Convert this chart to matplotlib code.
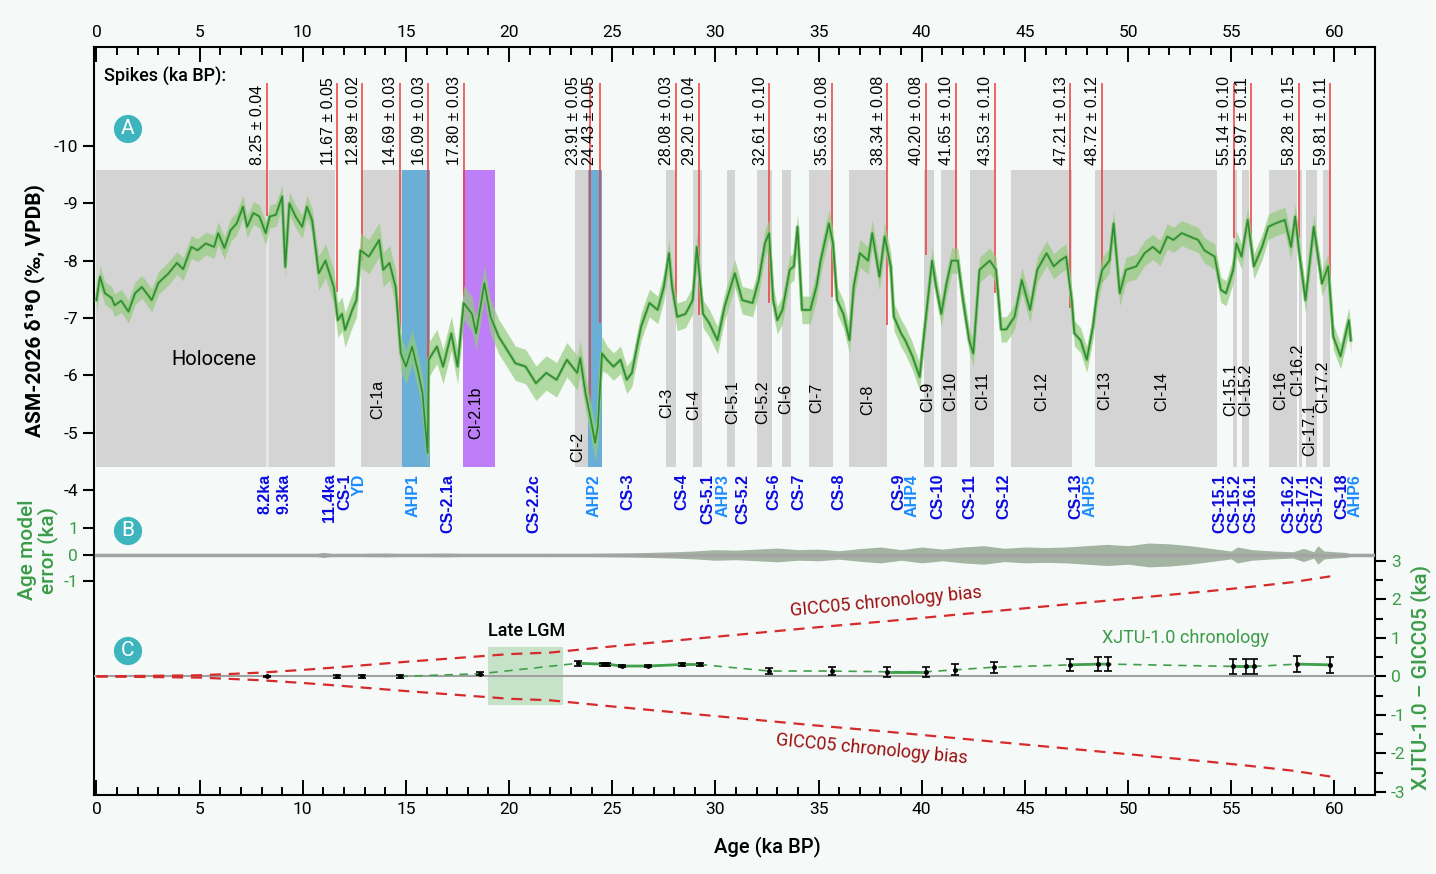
import matplotlib.pyplot as plt
from matplotlib.patches import Rectangle
from matplotlib.ticker import MultipleLocator, FixedLocator

plt.rcParams['font.family'] = ['Roboto', 'DejaVu Sans']
plt.rcParams['axes.unicode_minus'] = False

W, H = 1436, 874
BG = '#f5f9f8'
GREEN = '#3c9c48'
DARK_RED = '#9b1111'
ARIAL = ['Liberation Sans', 'DejaVu Sans']

# ASM-2026 d18O record (ka BP, permil)
d18o_age = [0.0, 0.17, 0.41, 0.73, 0.88, 1.2, 1.55, 1.87, 2.2, 2.68, 3.0, 3.5, 3.9, 4.2, 4.6,
            4.9, 5.3, 5.7, 5.9, 6.2, 6.5, 6.8, 7.1, 7.3, 7.6, 7.9, 8.2, 8.4, 8.7, 9.0,
            9.15, 9.35, 9.65, 9.97, 10.2, 10.45, 10.77, 11.1, 11.5, 11.7, 11.9, 12.05, 12.4, 12.6, 12.8,
            13.2, 13.7, 13.9, 14.2, 14.5, 14.75, 15.0, 15.3, 15.6, 15.8, 16.05, 16.1, 16.5, 16.8, 17.2,
            17.5, 17.8, 18.2, 18.4, 18.8, 19.1, 19.5, 19.8, 20.3, 20.8, 21.3, 21.8, 22.3, 22.8, 23.3,
            23.45, 23.7, 23.9, 24.17, 24.3, 24.5, 24.74, 25.06, 25.4, 25.7, 25.95, 26.2, 26.4, 26.8, 27.2,
            27.5, 27.75, 27.9, 28.15, 28.55, 28.9, 29.1, 29.4, 29.7, 30.1, 30.45, 30.94, 31.3, 31.8, 32.1,
            32.4, 32.6, 32.8, 33.0, 33.25, 33.6, 33.8, 33.98, 34.2, 34.6, 34.9, 35.1, 35.5, 35.7, 35.9,
            36.2, 36.5, 36.7, 37.0, 37.4, 37.6, 37.95, 38.2, 38.5, 38.65, 39.0, 39.2, 39.55, 39.9, 40.1,
            40.5, 40.7, 40.95, 41.2, 41.45, 41.75, 42.0, 42.3, 42.5, 42.8, 43.3, 43.6, 43.85, 44.1, 44.5,
            44.85, 45.25, 45.6, 46.05, 46.4, 46.7, 47.0, 47.27, 47.4, 47.7, 48.0, 48.3, 48.5, 48.75, 49.1,
            49.3, 49.6, 49.9, 50.4, 50.8, 51.2, 51.55, 51.9, 52.2, 52.6, 53.0, 53.4, 53.7, 54.2, 54.5,
            54.75, 55.1, 55.25, 55.5, 55.8, 56.1, 56.5, 56.8, 57.15, 57.6, 57.9, 58.1, 58.3, 58.6, 59.0,
            59.4, 59.7, 59.95, 60.3, 60.7, 60.8]
d18o = [-7.31, -7.72, -7.43, -7.35, -7.22, -7.3, -7.11, -7.43, -7.54, -7.31, -7.61, -7.78, -7.96, -7.85, -8.24,
        -8.18, -8.30, -8.24, -8.48, -8.22, -8.53, -8.65, -8.94, -8.59, -8.83, -8.77, -8.48, -8.77, -8.80, -9.12,
        -7.89, -9.0, -8.77, -8.59, -8.94, -8.71, -7.78, -8.0, -7.54, -6.96, -7.07, -6.79, -7.14, -7.31, -8.18,
        -8.07, -8.36, -7.84, -7.96, -7.54, -6.38, -6.15, -6.5, -6.04, -5.69, -4.64, -6.27, -6.5, -6.15, -6.73,
        -6.15, -7.26, -7.07, -6.73, -7.61, -7.02, -6.67, -6.5, -6.21, -6.15, -5.86, -6.04, -5.92, -6.27, -6.04,
        -6.3, -5.69, -5.34, -4.82, -5.1, -6.38, -6.27, -6.15, -6.27, -5.92, -6.04, -6.5, -6.85, -7.26, -7.14,
        -7.54, -8.13, -7.54, -7.02, -7.07, -7.31, -8.24, -7.07, -6.91, -6.61, -7.2, -7.78, -7.31, -7.26, -7.66,
        -8.3, -8.48, -7.31, -6.96, -7.14, -7.84, -7.9, -8.59, -7.14, -7.14, -7.55, -8.0, -8.65, -8.3, -7.31,
        -7.07, -6.61, -7.54, -8.13, -8.0, -8.48, -7.72, -8.42, -7.9, -7.02, -6.73, -6.61, -6.33, -5.97, -6.67,
        -8.0, -7.54, -7.07, -7.6, -8.0, -8.0, -7.31, -6.61, -6.38, -7.84, -8.0, -7.84, -6.8, -6.8, -7.02,
        -7.66, -7.14, -7.84, -8.13, -7.9, -8.0, -8.07, -7.31, -6.73, -6.61, -6.27, -6.85, -7.43, -7.84, -8.0,
        -8.65, -7.43, -7.84, -7.9, -8.13, -8.24, -8.13, -8.42, -8.36, -8.48, -8.42, -8.36, -8.18, -8.07, -7.49,
        -7.43, -7.84, -8.30, -8.07, -8.71, -7.9, -8.24, -8.59, -8.65, -8.71, -8.24, -8.77, -8.13, -7.31, -8.59,
        -7.6, -7.9, -6.67, -6.33, -6.96, -6.61]

# spread of the raw (unsmoothed) record about the smoothed line, per age interval
raw_edges = [0, 10.5, 15, 24.6, 40, 61]
raw_half = [0.2, 0.3, 0.3, 0.24, 0.22]

# abrupt transitions (spikes)
spike_age = [8.25, 11.67, 12.89, 14.69, 16.09, 17.80, 23.91, 24.43, 28.08, 29.20, 32.61,
             35.63, 38.34, 40.20, 41.65, 43.53, 47.21, 48.72, 55.14, 55.97, 58.28, 59.81]
spike_err = [0.04, 0.05, 0.02, 0.03, 0.03, 0.03, 0.05, 0.05, 0.03, 0.04, 0.10,
             0.08, 0.08, 0.08, 0.10, 0.10, 0.13, 0.12, 0.10, 0.11, 0.15, 0.11]
spike_end = [-8.77, -7.46, -8.0, -6.79, -6.09, -7.37, -5.51, -6.91, -7.05, -7.05, -7.26,
             -7.37, -6.88, -8.1, -7.95, -7.43, -7.17, -7.63, -8.39, -8.21, -8.39, -7.25]

# interstadial / warm intervals
gray_start = [0.0, 12.81, 23.2, 27.59, 28.93, 30.58, 32.03, 33.24, 34.52, 36.49, 40.11,
              40.95, 42.34, 44.31, 48.40, 55.07, 55.54, 56.85, 58.30, 58.63, 59.44]
gray_end = [11.56, 14.79, 23.84, 28.09, 29.34, 30.94, 32.73, 33.68, 35.68, 38.30, 40.60,
            41.70, 43.50, 47.30, 54.30, 55.30, 55.88, 58.20, 58.42, 59.15, 59.79]
ahp_start = [14.79, 23.84]
ahp_end = [16.17, 24.49]
cib_start, cib_end = 17.78, 19.32

ci_names = ['CI-1a', 'CI-2.1b', 'CI-2', 'CI-3', 'CI-4', 'CI-5.1', 'CI-5.2', 'CI-6', 'CI-7', 'CI-8',
            'CI-9', 'CI-10', 'CI-11', 'CI-12', 'CI-13', 'CI-14', 'CI-15.1', 'CI-15.2', 'CI-16',
            'CI-16.2', 'CI-17.1', 'CI-17.2']
ci_x = [13.65, 18.40, 23.34, 27.64, 28.96, 30.85, 32.31, 33.42, 34.92, 37.38,
        40.31, 41.41, 42.97, 45.82, 48.85, 51.63, 54.99, 55.71, 57.42, 58.23, 58.79, 59.42]
ci_y = [-5.57, -5.34, -4.75, -5.51, -5.48, -5.53, -5.53, -5.58, -5.60, -5.57,
        -5.62, -5.71, -5.73, -5.71, -5.74, -5.71, -5.74, -5.74, -5.74, -6.09, -5.04, -5.79]

event_names = ['8.2ka', '9.3ka', '11.4ka', 'CS-1', 'YD', 'AHP1', 'CS-2.1a', 'CS-2.2c', 'AHP2', 'CS-3',
               'CS-4', 'CS-5.1', 'AHP3', 'CS-5.2', 'CS-6', 'CS-7', 'CS-8', 'CS-9', 'AHP4', 'CS-10',
               'CS-11', 'CS-12', 'CS-13', 'AHP5', 'CS-15.1', 'CS-15.2', 'CS-16.1', 'CS-16.2',
               'CS-17.1', 'CS-17.2', 'CS-18', 'AHP6']
event_x = [8.17, 9.10, 11.28, 12.05, 12.74, 15.33, 17.05, 21.22, 24.13, 25.75,
           28.37, 29.63, 30.38, 31.35, 32.81, 34.05, 35.96, 38.87, 39.54, 40.80,
           42.31, 43.96, 47.48, 48.16, 54.43, 55.19, 55.96, 57.80,
           58.50, 59.22, 60.36, 61.00]

# age model error envelope (half width, ka)
err_age = [0, 10, 10.5, 11, 11.5, 12, 13, 14, 15, 16, 17, 18, 19, 20, 21, 22, 23, 24, 25, 26,
           27, 28, 29, 30, 31, 32, 33, 34, 35, 36, 37, 38, 39, 40, 41, 42, 43, 44, 45, 46,
           47, 48, 49, 50, 51, 52, 53, 54, 55, 55.3, 56, 57, 58, 58.5, 59, 59.2, 59.5, 60, 60.5, 60.8]
err_half = [0.01, 0.01, 0.03, 0.1, 0.04, 0.02, 0.06, 0.07, 0.05, 0.06, 0.07, 0.05, 0.06, 0.05, 0.05,
            0.06, 0.05, 0.06, 0.07, 0.08, 0.1, 0.12, 0.15, 0.2, 0.18, 0.22, 0.26, 0.2, 0.22, 0.16,
            0.24, 0.3, 0.2, 0.3, 0.22, 0.3, 0.35, 0.25, 0.3, 0.28, 0.3, 0.35, 0.4, 0.35, 0.45,
            0.42, 0.35, 0.25, 0.15, 0.3, 0.2, 0.15, 0.12, 0.25, 0.12, 0.35, 0.15, 0.12, 0.1, 0.05]

# GICC05 maximum counting error
bias_age = [0, 5, 8, 10, 12, 15, 18, 20, 22, 25, 28, 30, 32, 35, 38, 40, 42, 44, 46, 48,
            50, 52, 54, 56, 58, 59.8]
bias = [0, 0.03, 0.1, 0.17, 0.25, 0.38, 0.5, 0.58, 0.62, 0.78, 0.93, 1.03, 1.13, 1.28, 1.42, 1.52,
        1.62, 1.72, 1.82, 1.92, 2.02, 2.12, 2.22, 2.33, 2.45, 2.6]

# XJTU-1.0 minus GICC05 at tie points
xjtu_age = [8.25, 11.67, 12.89, 14.69, 18.6, 23.32, 24.55, 24.75, 25.45, 26.75, 28.37, 29.25,
            32.61, 35.63, 38.34, 40.20, 41.6, 43.5, 47.21, 48.55, 49.05, 55.1, 55.7, 56.1, 58.2, 59.8]
xjtu_diff = [0.0, 0.0, 0.0, 0.0, 0.07, 0.34, 0.32, 0.32, 0.27, 0.27, 0.31, 0.31,
             0.14, 0.14, 0.12, 0.12, 0.17, 0.24, 0.30, 0.32, 0.32, 0.26, 0.26, 0.26, 0.32, 0.30]
xjtu_err = [0.02, 0.03, 0.03, 0.03, 0.04, 0.06, 0.04, 0.04, 0.02, 0.03, 0.04, 0.04,
            0.08, 0.1, 0.13, 0.13, 0.14, 0.14, 0.15, 0.19, 0.19, 0.2, 0.2, 0.2, 0.2, 0.2]
solid_groups = [(5, 11), (14, 15), (18, 20), (21, 23), (24, 25)]


def fx(px):
    return px / W


def fy(py):
    return 1 - py / H


def raw_spread(age):
    for k in range(len(raw_half)):
        if age < raw_edges[k + 1]:
            return raw_half[k]
    return raw_half[-1]


fig = plt.figure(figsize=(W / 100, H / 100), dpi=100, facecolor=BG)
rect = [fx(94), fy(795), (1375 - 94) / W, (795 - 47) / H]
XLIM = (-0.12, 61.97)

# ---- panel A (also carries the frame and the age axes) ----
ax = fig.add_axes(rect, facecolor=BG)
ax.set_xlim(*XLIM)
ax.set_ylim(1.326, -11.728)
for s in ax.spines.values():
    s.set_linewidth(1.5)
ax.xaxis.set_major_locator(MultipleLocator(5))
ax.xaxis.set_minor_locator(MultipleLocator(1))
ax.tick_params(axis='x', which='both', direction='in', top=True, bottom=True,
               labeltop=True, labelbottom=True, width=1.4, labelsize=12.5, pad=5)
ax.tick_params(axis='x', which='major', length=11)
ax.tick_params(axis='x', which='minor', length=6)
ax.set_yticks(range(-10, -3))
ax.tick_params(axis='y', direction='out', length=8, width=1.5, labelsize=12.5)

y_top, y_bot = -9.581, -4.398
for a, b in zip(gray_start, gray_end):
    ax.add_patch(Rectangle((a, y_top), b - a, y_bot - y_top, fc='#d4d4d4', ec='none', zorder=1))
ax.add_patch(Rectangle((8.2, y_top), 0.16, y_bot - y_top, fc='#e6e6e6', ec='none', zorder=1))
for a, b in zip(ahp_start, ahp_end):
    ax.add_patch(Rectangle((a, y_top), b - a, y_bot - y_top, fc='#6baed6', ec='none', zorder=1))
ax.add_patch(Rectangle((cib_start, y_top), cib_end - cib_start, y_bot - y_top,
                       fc='#bd7ef8', ec='none', zorder=1))

ax.vlines(spike_age, -11.1, spike_end, color='#f03b3b', lw=1.1, zorder=2)
for a, e in zip(spike_age, spike_err):
    # the two close LGM spikes get a little more room
    dx = {23.91: -6.4, 24.43: -2.2}.get(a, -1.2)
    ax.annotate(f'{a:.2f} ± {e:.2f}', xy=(a, -9.67), xytext=(dx, 0), textcoords='offset points',
                rotation=90, ha='right', va='bottom', fontsize=11.5, family=ARIAL)

spread = [raw_spread(a) for a in d18o_age]
ax.fill_between(d18o_age, [v - s for v, s in zip(d18o, spread)],
                [v + s for v, s in zip(d18o, spread)], color='#94cc7e', alpha=0.7, lw=0, zorder=3)
ax.plot(d18o_age, d18o, color='#8cc874', lw=2.5, zorder=3)
ax.plot(d18o_age, d18o, color='#2e8b38', lw=1.2, zorder=4)

for name, x, y in zip(ci_names, ci_x, ci_y):
    ax.text(x, y, name, rotation=90, ha='center', va='center', fontsize=11.5,
            family=ARIAL, zorder=5)
for name, x in zip(event_names, event_x):
    col = '#1a8cff' if name.startswith('AHP') or name == 'YD' else '#0b0be0'
    ax.text(x, -4.28, name, rotation=90, ha='center', va='top', fontsize=11.5,
            family=ARIAL, fontweight='bold', color=col, zorder=5)

ax.text(5.7, -6.27, 'Holocene', ha='center', va='center', fontsize=14.5, zorder=5)

# ---- panel B: age model error ----
axB = fig.add_axes(rect)
axB.patch.set_visible(False)
axB.set_xlim(*XLIM)
axB.set_ylim(-9.06, 19.17)
axB.xaxis.set_visible(False)
for s in axB.spines.values():
    s.set_visible(False)
axB.set_yticks([-1, 0, 1])
axB.tick_params(axis='y', direction='out', length=8, width=1.5, labelsize=12.5,
                labelcolor=GREEN)
axB.fill_between(err_age, [-e for e in err_half], err_half, color='#a3b4a3', lw=0, zorder=1)
axB.plot([0, XLIM[1]], [0, 0], color='#a3a3a3', lw=2.5, zorder=2)

# ---- panel C: chronology difference ----
axC = fig.add_axes(rect)
axC.patch.set_visible(False)
axC.set_xlim(*XLIM)
axC.set_ylim(-3.08, 16.35)
axC.xaxis.set_visible(False)
for s in axC.spines.values():
    s.set_visible(False)
axC.yaxis.tick_right()
axC.set_yticks(range(-3, 4))
axC.yaxis.set_minor_locator(FixedLocator([-2.5, -1.5, -0.5, 0.5, 1.5, 2.5]))
axC.tick_params(axis='y', which='both', direction='out', width=1.5, labelsize=12.5,
                labelcolor=GREEN)
axC.tick_params(axis='y', which='major', length=8)
axC.tick_params(axis='y', which='minor', length=6)

axC.add_patch(Rectangle((19.0, -0.74), 3.6, 1.51, fc='#c6e3ca', ec='none', zorder=0))
axC.plot([XLIM[0], XLIM[1]], [0, 0], color='#a0a0a0', lw=1.5, zorder=1)
axC.plot(bias_age, bias, ls=(0, (5, 3.5)), color='#d62b2b', lw=1.6, zorder=2)
axC.plot(bias_age, [-b for b in bias], ls=(0, (5, 3.5)), color='#d62b2b', lw=1.6, zorder=2)
axC.plot(xjtu_age[3:], xjtu_diff[3:], ls=(0, (5, 4)), color='#3f9f4a', lw=1.2, zorder=3)
for i, j in solid_groups:
    axC.plot(xjtu_age[i:j + 1], xjtu_diff[i:j + 1], color='#3f9f4a', lw=2, zorder=3)
axC.errorbar(xjtu_age, xjtu_diff, yerr=xjtu_err, fmt='o', ms=2.5, color='black',
             capsize=3, elinewidth=1.2, capthick=1.2, zorder=4)

axC.text(38.27, 1.935, 'GICC05 chronology bias', color=DARK_RED, fontsize=13,
         rotation=5.5, ha='center', va='center', zorder=5)
axC.text(37.55, -1.883, 'GICC05 chronology bias', color=DARK_RED, fontsize=13,
         rotation=-5.5, ha='center', va='center', zorder=5)
axC.text(52.76, 1.0, 'XJTU-1.0 chronology', color=GREEN, fontsize=13,
         ha='center', va='center', zorder=5)
axC.text(20.87, 1.18, 'Late LGM', fontsize=13, fontweight='medium',
         ha='center', va='center', zorder=5)

# ---- labels ----
fig.text(fx(104), fy(76), 'Spikes (ka BP):', ha='left', va='center', fontsize=13,
         fontweight='medium')
for letter, py in zip('ABC', [129, 531, 651]):
    fig.text(fx(128), fy(py), letter, ha='center', va='center', color='white', fontsize=15,
             bbox=dict(boxstyle='circle,pad=0.22', fc='#3eb4be', ec='none'))

fig.text(fx(35), fy(311), 'ASM-2026 δ¹⁸O (‰, VPDB)', rotation=90, ha='center', va='center',
         fontsize=15, fontweight='bold')
fig.text(fx(38), fy(550), 'Age model\nerror (ka)', rotation=90, ha='center', va='center',
         fontsize=15, color=GREEN, fontweight='medium', linespacing=0.95)
fig.text(fx(1421), fy(677), 'XJTU-1.0 – GICC05 (ka)', rotation=90, ha='center', va='center',
         fontsize=15, color=GREEN, fontweight='medium')
fig.text(fx(767), fy(847), 'Age (ka BP)', ha='center', va='center', fontsize=14.5,
         fontweight='medium')

fig.savefig('out.png', dpi=100, facecolor=BG)
